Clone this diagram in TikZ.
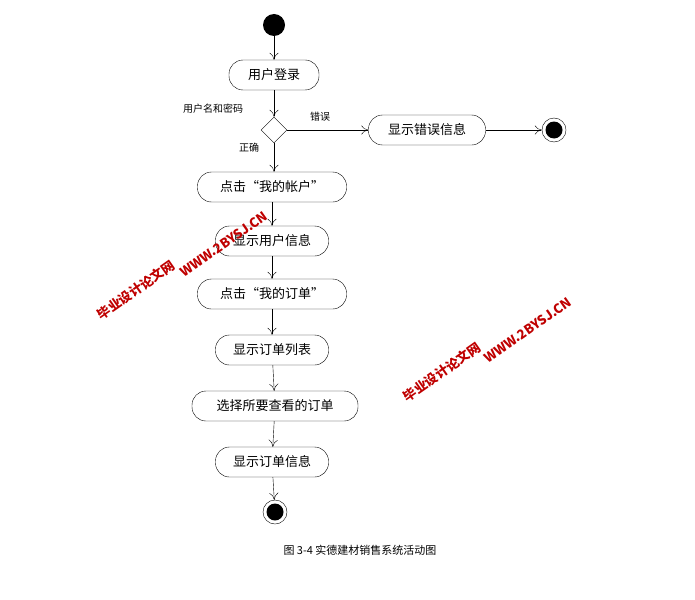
\documentclass[tikz,border=0pt]{standalone}
\usepackage{fontspec}
\setmainfont{Noto Sans CJK SC}
\usetikzlibrary{shapes.geometric,arrows.meta}
\begin{document}
\begin{tikzpicture}[x=1pt,y=-1pt,
 act/.style={draw,rounded corners=14pt,minimum height=30pt,inner xsep=6pt,font=\fontsize{13}{13}\selectfont},
 arr/.style={-{To[length=7pt,width=9pt]}},
 lbl/.style={font=\fontsize{10}{10}\selectfont},
 wm/.style={text=red!75!black,font=\fontsize{13}{13}\selectfont\bfseries,inner sep=0}]
\useasboundingbox (0,0) rectangle (695,599);
\node[circle,fill,minimum size=22pt,inner sep=0] (s) at (274,25) {};
\node[act,minimum width=90pt] (a1) at (274,75) {用户登录};
\node[diamond,draw,minimum width=26pt,minimum height=26pt,inner sep=0] (d) at (274,130) {};
\node[act,minimum width=117pt] (err) at (427,130) {显示错误信息};
\node[circle,draw,minimum size=24pt,inner sep=0] (e1) at (554,130) {};
\node[circle,fill,minimum size=17pt,inner sep=0] at (554,130) {};
\node[act,minimum width=149pt] (a2) at (272,187) {点击“我的帐户”};
\node[act,minimum width=113pt] (a3) at (272,241) {显示用户信息};
\node[act,minimum width=149pt] (a4) at (272,294) {点击“我的订单”};
\node[act,minimum width=113pt] (a5) at (272,350) {显示订单列表};
\node[act,minimum width=166pt] (a6) at (275,406) {选择所要查看的订单};
\node[act,minimum width=113pt] (a7) at (272,462) {显示订单信息};
\node[circle,draw,minimum size=24pt,inner sep=0] (e2) at (275,512) {};
\node[circle,fill,minimum size=17pt,inner sep=0] at (275,512) {};
\draw[arr] (s) -- (a1);
\draw[arr] (a1) -- (d);
\draw[arr] (d) -- (err);
\draw[arr] (err) -- (e1);
\draw[arr] (d) -- (d|-a2.north);
\draw[arr] (a2) -- (a3);
\draw[arr] (a3) -- (a4);
\draw[arr] (a4) -- (a5);
\draw[arr] (a5) -- (a6);
\draw[arr] (a6) -- (a7);
\draw[arr] (a7) -- (e2);
\node[lbl] (l1) at (213,109) {用户名和密码};
\node[lbl] (l2) at (320,117) {错误};
\node[lbl] (l3) at (249,148) {正确};
\node[font=\fontsize{11}{11}\selectfont] (cap) at (360,550) {图 3-4 实德建材销售系统活动图};
\node[wm,rotate=35] (w1) at (224,244) {WWW.2BYSJ.CN};
\node[wm,rotate=35] (w2) at (136,290) {毕业设计论文网};
\node[wm,rotate=35] (w3) at (528,330) {WWW.2BYSJ.CN};
\node[wm,rotate=35] (w4) at (442,372) {毕业设计论文网};
\end{tikzpicture}
\end{document}
